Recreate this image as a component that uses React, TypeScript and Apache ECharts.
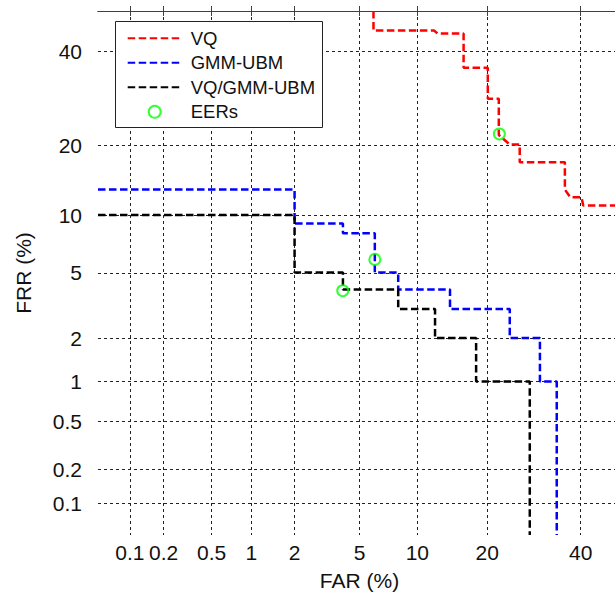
import React, { useEffect, useRef } from "react";
import * as echarts from "echarts";

// Tick values (percent) used on both axes
const TICKS = [0.1, 0.2, 0.5, 1, 2, 5, 10, 20, 40];
const AXIS_MIN_PCT = 0.05;
const AXIS_MAX_PCT = 50;

// VQ curve corners (FAR %, FRR %)
const VQ_FAR = [5.97, 5.97, 12.0, 12.4, 16.1, 16.1, 20.1, 20.1, 22.1, 22.1, 24.2, 26.2, 26.2, 36.2, 36.2, 37.5, 40.2, 40.6, 50];
const VQ_FRR = [50, 45.1, 45.1, 44.4, 44.4, 36.1, 36.1, 29.1, 29.1, 21.8, 20.1, 20.1, 17.1, 17.1, 13.1, 12.1, 12.1, 11.1, 11.1];

// GMM-UBM curve corners
const GMM_FAR = [0.05, 2.0, 2.0, 4.01, 4.01, 6.07, 6.07, 8.05, 8.05, 14.1, 14.1, 24.2, 24.2, 30.5, 30.5, 34.3, 34.3];
const GMM_FRR = [13.1, 13.1, 9.1, 9.1, 8.14, 8.14, 5.03, 5.03, 4.02, 4.02, 3.06, 3.06, 2.0, 2.0, 1.0, 1.0, 0.05];

// VQ/GMM-UBM fusion curve corners
const FUS_FAR = [0.05, 2.0, 2.0, 4.01, 4.01, 8.05, 8.05, 12.1, 12.1, 18.1, 18.1, 28.3, 28.3];
const FUS_FRR = [10, 10, 5.03, 5.03, 4.02, 4.02, 3.06, 3.06, 2.0, 2.0, 1.0, 1.0, 0.05];

// Equal error rate points
const EER_FAR = [22.2, 6.07, 4.0];
const EER_FRR = [22.0, 5.94, 3.95];

const FONT = "'Liberation Sans', Arial, Helvetica, sans-serif";

function probit(p: number): number {
  const a = [-3.969683028665376e1, 2.209460984245205e2, -2.759285104469687e2, 1.38357751867269e2, -3.066479806614716e1, 2.506628277459239];
  const b = [-5.447609879822406e1, 1.615858368580409e2, -1.556989798598866e2, 6.680131188771972e1, -1.328068155288572e1];
  const c = [-7.784894002430293e-3, -3.223964580411365e-1, -2.400758277161838, -2.549732539343734, 4.374664141464968, 2.938163982698783];
  const d = [7.784695709041462e-3, 3.224671290700398e-1, 2.445134137142996, 3.754408661907416];
  const pl = 0.02425;
  const ph = 1 - pl;
  if (p <= 0) return -10;
  if (p >= 1) return 10;
  if (p < pl) {
    const q = Math.sqrt(-2 * Math.log(p));
    return (((((c[0] * q + c[1]) * q + c[2]) * q + c[3]) * q + c[4]) * q + c[5]) / ((((d[0] * q + d[1]) * q + d[2]) * q + d[3]) * q + 1);
  }
  if (p <= ph) {
    const q = p - 0.5;
    const r = q * q;
    return ((((((a[0] * r + a[1]) * r + a[2]) * r + a[3]) * r + a[4]) * r + a[5]) * q) / (((((b[0] * r + b[1]) * r + b[2]) * r + b[3]) * r + b[4]) * r + 1);
  }
  const q = Math.sqrt(-2 * Math.log(1 - p));
  return -(((((c[0] * q + c[1]) * q + c[2]) * q + c[3]) * q + c[4]) * q + c[5]) / ((((d[0] * q + d[1]) * q + d[2]) * q + d[3]) * q + 1);
}

const pz = (pct: number) => probit(pct / 100);

function toPairs(xs: number[], ys: number[]) {
  return xs.map((x, i) => [pz(x), pz(ys[i])]);
}

const TICK_Z = TICKS.map(pz);
function tickLabel(v: number): string {
  let best = 0;
  let bd = Infinity;
  TICK_Z.forEach((z, i) => {
    const dd = Math.abs(z - v);
    if (dd < bd) {
      bd = dd;
      best = i;
    }
  });
  return String(TICKS[best]);
}

export default function App() {
  const ref = useRef<HTMLDivElement>(null);
  useEffect(() => {
    document.body.style.margin = "0";
    if (!ref.current) return;
    const chart = echarts.init(ref.current, undefined, { renderer: "svg" });
    const zMin = pz(AXIS_MIN_PCT);
    const zMax = pz(AXIS_MAX_PCT);
    const frameColor = "#404040";
    const gridLine = { show: true, lineStyle: { color: "#222", type: [3, 3], width: 1 } };
    const tick = { show: true, inside: true, length: 5, customValues: TICK_Z, lineStyle: { color: frameColor } };
    const axisLine = { show: true, lineStyle: { color: frameColor, width: 1 } };
    const lineStyleBase = { width: 2.5, type: [7.5, 3.5] };
    const hiddenSymbol = { opacity: 0 };

    chart.setOption({
      animation: false,
      backgroundColor: "#fff",
      grid: { left: 98, top: 11, width: 523, height: 524, outerBoundsMode: "none", containLabel: false },
      xAxis: [
        {
          type: "value",
          min: zMin,
          max: zMax,
          position: "bottom",
          axisLine,
          axisTick: tick,
          splitLine: gridLine,
          axisLabel: {
            customValues: TICK_Z,
            formatter: (v: number) => tickLabel(v),
            fontSize: 21,
            fontFamily: FONT,
            color: "#111",
            margin: 7,
          },
          name: "FAR (%)",
          nameLocation: "middle",
          nameGap: 35,
          nameTextStyle: { fontSize: 21, fontFamily: FONT, color: "#111" },
        },
        {
          type: "value",
          min: zMin,
          max: zMax,
          position: "top",
          axisLine,
          axisTick: tick,
          splitLine: { show: false },
          axisLabel: { show: false },
        },
      ],
      yAxis: [
        {
          type: "value",
          min: zMin,
          max: zMax,
          position: "left",
          axisLine,
          axisTick: tick,
          splitLine: gridLine,
          axisLabel: {
            customValues: TICK_Z,
            formatter: (v: number) => tickLabel(v),
            fontSize: 21,
            fontFamily: FONT,
            color: "#111",
            margin: 16,
          },
          name: "FRR (%)",
          nameLocation: "middle",
          nameGap: 64,
          nameRotate: 90,
          nameTextStyle: { fontSize: 21, fontFamily: FONT, color: "#111" },
        },
        {
          type: "value",
          min: zMin,
          max: zMax,
          position: "right",
          axisLine,
          axisTick: tick,
          splitLine: { show: false },
          axisLabel: { show: false },
        },
      ],
      legend: {
        orient: "vertical",
        left: 126.7,
        top: 28.3,
        padding: 0,
        itemWidth: 54,
        itemHeight: 12,
        itemGap: 4.5,
        selectedMode: false,
        textStyle: { fontSize: 18.5, fontFamily: FONT, color: "#111", lineHeight: 20, padding: [0, 0, 0, 4] },
        data: [
          { name: "VQ", itemStyle: hiddenSymbol },
          { name: "GMM-UBM", itemStyle: hiddenSymbol },
          { name: "VQ/GMM-UBM", itemStyle: hiddenSymbol },
          { name: "EERs" },
        ],
        z: 5,
      },
      graphic: [
        {
          type: "rect",
          shape: { x: 115.5, y: 21.5, width: 207, height: 106 },
          style: { fill: "#fff", stroke: "#222", lineWidth: 1 },
          z: 3,
        },
      ],
      series: [
        {
          name: "VQ",
          type: "line",
          data: toPairs(VQ_FAR, VQ_FRR),
          symbol: "none",
          lineStyle: { ...lineStyleBase, color: "#ff0000" },
          itemStyle: { color: "#ff0000" },
          z: 2,
        },
        {
          name: "GMM-UBM",
          type: "line",
          data: toPairs(GMM_FAR, GMM_FRR),
          symbol: "none",
          lineStyle: { ...lineStyleBase, color: "#0000ff" },
          itemStyle: { color: "#0000ff" },
          z: 2,
        },
        {
          name: "VQ/GMM-UBM",
          type: "line",
          data: toPairs(FUS_FAR, FUS_FRR),
          symbol: "none",
          lineStyle: { ...lineStyleBase, color: "#000000" },
          itemStyle: { color: "#000000" },
          z: 2,
        },
        {
          name: "EERs",
          type: "scatter",
          data: toPairs(EER_FAR, EER_FRR),
          symbol: "circle",
          symbolSize: 11,
          itemStyle: { color: "rgba(0,0,0,0)", borderColor: "#00ff00", borderWidth: 2 },
          z: 4,
        },
      ],
    });
    return () => chart.dispose();
  }, []);
  return <div ref={ref} style={{ width: 615, height: 593, position: "absolute", left: 0, top: 0 }} />;
}
